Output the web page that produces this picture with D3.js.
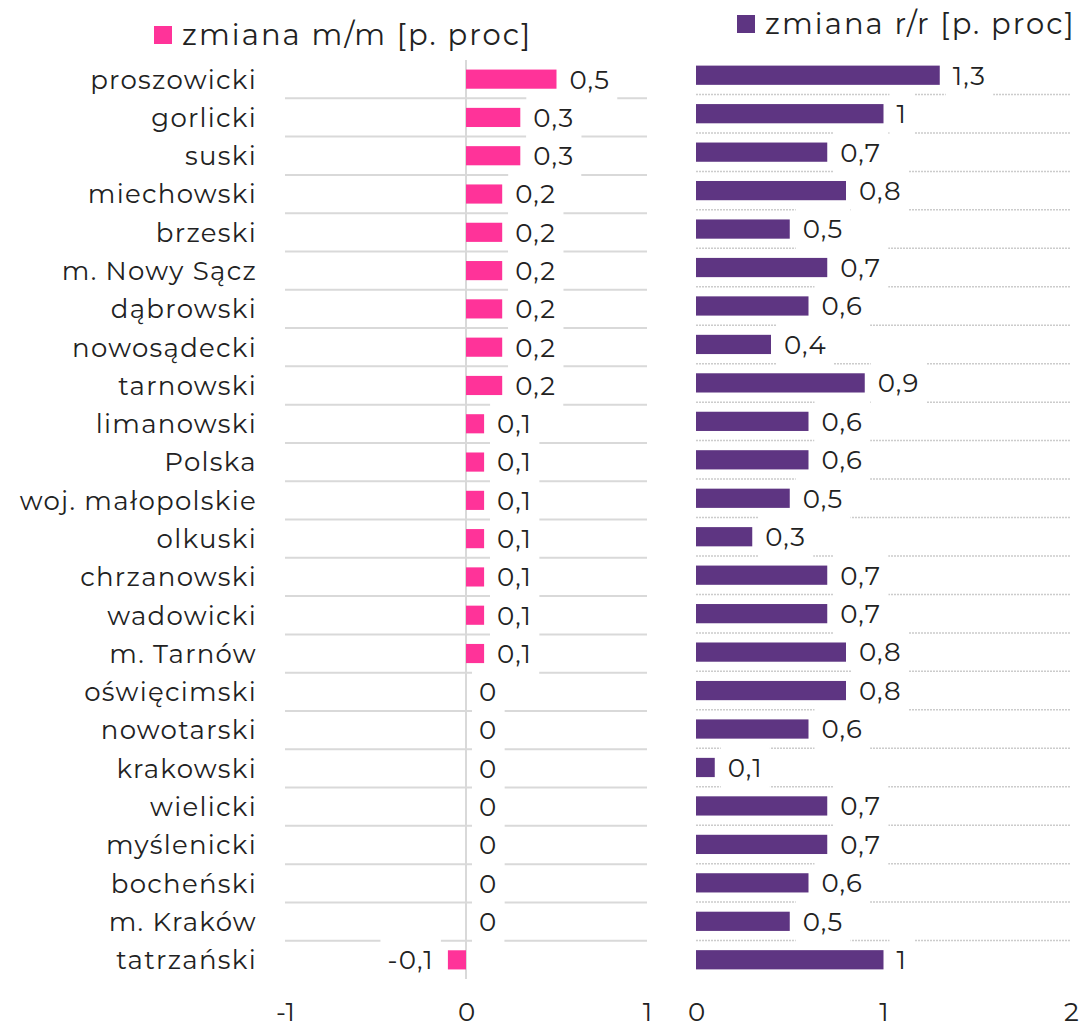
<!DOCTYPE html>
<html lang="pl">
<head>
<meta charset="utf-8">
<title>zmiana m/m i r/r</title>
<script src="https://cdn.jsdelivr.net/npm/d3@7"></script>
<style>
  body { margin: 0; background: #fff; }
  svg text { font-family: "Montserrat", "Inter", "Open Sans", sans-serif; fill: #222; }
</style>
</head>
<body>
<svg width="1086" height="1029"></svg>
<script>
// dane
const categories = ["proszowicki", "gorlicki", "suski", "miechowski", "brzeski", "m. Nowy Sącz",
  "dąbrowski", "nowosądecki", "tarnowski", "limanowski", "Polska", "woj. małopolskie", "olkuski",
  "chrzanowski", "wadowicki", "m. Tarnów", "oświęcimski", "nowotarski", "krakowski", "wielicki",
  "myślenicki", "bocheński", "m. Kraków", "tatrzański"];
const mmValues = [0.5, 0.3, 0.3, 0.2, 0.2, 0.2, 0.2, 0.2, 0.2, 0.1, 0.1, 0.1, 0.1, 0.1, 0.1, 0.1,
  0, 0, 0, 0, 0, 0, 0, -0.1];
const rrValues = [1.3, 1, 0.7, 0.8, 0.5, 0.7, 0.6, 0.4, 0.9, 0.6, 0.6, 0.5, 0.3, 0.7, 0.7, 0.8,
  0.8, 0.6, 0.1, 0.7, 0.7, 0.6, 0.5, 1];
const mmTicks = [-1, 0, 1];
const rrTicks = [0, 1, 2];
const seriesNames = ["zmiana m/m [p. proc]", "zmiana r/r [p. proc]"];

const pink = "#ff3399";
const purple = "#5e3582";

const svg = d3.select("svg");
const fmt = d => String(d).replace(".", ",");

// skale
const xL = d3.scaleLinear().domain([-1, 1]).range([285, 647]);
const xR = d3.scaleLinear().domain([0, 2]).range([696, 1071]);
const yL = d3.scaleBand().domain(categories).range([60, 979]).paddingInner(0.5).paddingOuter(0.25);
const yR = d3.scaleBand().domain(categories).range([56, 979]).paddingInner(0.5).paddingOuter(0.25);

const gridG = svg.append("g");
const boxG = svg.append("g");
const zeroG = svg.append("g");
const barG = svg.append("g");
const textG = svg.append("g");

// linie siatki miedzy kategoriami
const between = (y) => categories.slice(1).map(c => y(c) - y.step() * y.paddingInner() / 2);

gridG.selectAll("line.gl")
  .data(between(yL))
  .enter().append("line")
  .attr("x1", xL(-1)).attr("x2", xL(1))
  .attr("y1", d => d).attr("y2", d => d)
  .style("stroke", "#d9d9d9").style("stroke-width", 2);

gridG.selectAll("line.gr")
  .data(between(yR))
  .enter().append("line")
  .attr("x1", xR(0)).attr("x2", xR(2))
  .attr("y1", d => d).attr("y2", d => d)
  .style("stroke", "#cccccc").style("stroke-width", 1.5)
  .style("stroke-dasharray", "2,1");

// os zero (lewy panel)
zeroG.append("line")
  .attr("x1", xL(0)).attr("x2", xL(0))
  .attr("y1", 60).attr("y2", 979)
  .style("stroke", "#d9d9d9").style("stroke-width", 2);

// slupki
barG.selectAll("rect.mm")
  .data(mmValues)
  .enter().append("rect")
  .attr("x", d => xL(Math.min(0, d)))
  .attr("width", d => Math.abs(xL(d) - xL(0)))
  .attr("y", (d, i) => yL(categories[i]))
  .attr("height", yL.bandwidth())
  .style("fill", pink);

barG.selectAll("rect.rr")
  .data(rrValues)
  .enter().append("rect")
  .attr("x", xR(0))
  .attr("width", d => xR(d) - xR(0))
  .attr("y", (d, i) => yR(categories[i]))
  .attr("height", yR.bandwidth())
  .style("fill", purple);

// etykiety danych z bialym tlem
function dataLabels(values, x, y) {
  values.forEach((v, i) => {
    const cy = y(categories[i]) + y.bandwidth() / 2;
    const t = textG.append("text")
      .attr("x", v < 0 ? x(v) - 14 : x(v) + 13)
      .attr("y", cy)
      .attr("dy", "0.36em")
      .attr("text-anchor", v < 0 ? "end" : "start")
      .style("font-size", "26px")
      .style("letter-spacing", "1.2px")
      .text(fmt(v));
    const bb = t.node().getBBox();
    boxG.append("rect")
      .attr("x", bb.x - 7).attr("width", bb.width + 14)
      .attr("y", cy - 22).attr("height", 44)
      .style("fill", "#fff");
  });
}
dataLabels(mmValues, xL, yL);
dataLabels(rrValues, xR, yR);

// nazwy kategorii
textG.selectAll("text.cat")
  .data(categories)
  .enter().append("text")
  .attr("x", 257)
  .attr("y", d => yL(d) + yL.bandwidth() / 2)
  .attr("dy", "0.36em")
  .attr("text-anchor", "end")
  .style("font-size", "26px")
  .style("letter-spacing", "1.3px")
  .text(d => d);

// osie dolne
function bottomAxis(x, ticks) {
  const g = svg.append("g")
    .attr("transform", "translate(0,1000)")
    .call(d3.axisBottom(x).tickValues(ticks).tickSize(0).tickPadding(0).tickFormat(d => String(d)));
  g.select(".domain").remove();
  g.selectAll("text").style("font-size", "26px").attr("dy", "0.8em").style("fill", "#222");
}
bottomAxis(xL, mmTicks);
bottomAxis(xR, rrTicks);

// legenda
const legend = [
  { name: seriesNames[0], color: pink, x: 154, y: 45 },
  { name: seriesNames[1], color: purple, x: 737, y: 34 }
];
legend.forEach(l => {
  svg.append("rect")
    .attr("x", l.x).attr("y", l.y - 19)
    .attr("width", 18).attr("height", 18)
    .style("fill", l.color);
  svg.append("text")
    .attr("x", l.x + 28).attr("y", l.y)
    .style("font-size", "29px")
    .style("letter-spacing", "2.1px")
    .text(l.name);
});
</script>
</body>
</html>
